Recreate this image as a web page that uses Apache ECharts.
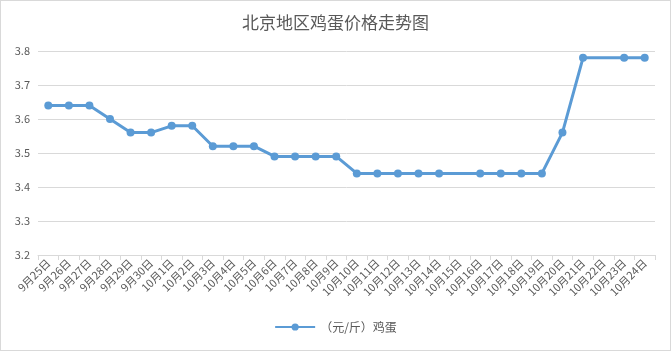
<!DOCTYPE html>
<html>
<head>
<meta charset="utf-8">
<script src="https://cdn.jsdelivr.net/npm/echarts@6/dist/echarts.min.js"></script>
<style>
    html, body { margin: 0; padding: 0; background: #fff; }
    #chart { width: 669px; height: 349px; border: 1px solid #d9d9d9; }
</style>
</head>
<body>
<div id="chart"></div>
<script type="text/javascript">
    // 日期
    var dates = ['9月25日','9月26日','9月27日','9月28日','9月29日','9月30日',
        '10月1日','10月2日','10月3日','10月4日','10月5日','10月6日','10月7日','10月8日','10月9日',
        '10月10日','10月11日','10月12日','10月13日','10月14日','10月15日','10月16日','10月17日',
        '10月18日','10月19日','10月20日','10月21日','10月22日','10月23日','10月24日'];
    // 鸡蛋价格（元/斤），10月15日、10月22日无数据
    var prices = [3.64,3.64,3.64,3.60,3.56,3.56,
        3.58,3.58,3.52,3.52,3.52,3.49,3.49,3.49,3.49,
        3.44,3.44,3.44,3.44,3.44,null,3.44,3.44,
        3.44,3.44,3.56,3.78,null,3.78,3.78];
    var seriesName = '（元/斤）鸡蛋';
    var title = '北京地区鸡蛋价格走势图';

    var font = '"Noto Sans CJK SC", sans-serif';
    var myChart = echarts.init(document.getElementById('chart'));
    var option = {
        animation: false,
        color: ['#5b9bd5'],
        title: {
            text: title,
            left: 'center',
            top: 8,
            textStyle: { fontFamily: font, fontSize: 17, fontWeight: 'normal', color: '#595959' }
        },
        legend: {
            data: [seriesName],
            bottom: 12,
            itemWidth: 40,
            itemHeight: 9,
            textStyle: { fontFamily: font, fontSize: 12, color: '#595959' }
        },
        grid: { left: 37, right: 15, top: 50, bottom: 95 },
        xAxis: {
            type: 'category',
            data: dates,
            boundaryGap: true,
            axisLine: { lineStyle: { color: '#d9d9d9' } },
            axisTick: { show: true, length: 5, lineStyle: { color: '#d9d9d9' } },
            axisLabel: { rotate: 45, interval: 0, margin: 6, fontFamily: font, fontSize: 11, color: '#595959' }
        },
        yAxis: {
            type: 'value',
            min: 3.2,
            max: 3.8,
            interval: 0.1,
            axisLine: { show: false },
            axisTick: { show: false },
            axisLabel: { fontFamily: font, fontSize: 11, color: '#595959', formatter: function (v) { return v.toFixed(1); } },
            splitLine: { lineStyle: { color: '#d9d9d9' } }
        },
        series: [{
            name: seriesName,
            type: 'line',
            data: prices,
            connectNulls: true,
            symbol: 'circle',
            symbolSize: 8,
            lineStyle: { width: 3 }
        }]
    };
    myChart.setOption(option, true);
</script>
</body>
</html>
